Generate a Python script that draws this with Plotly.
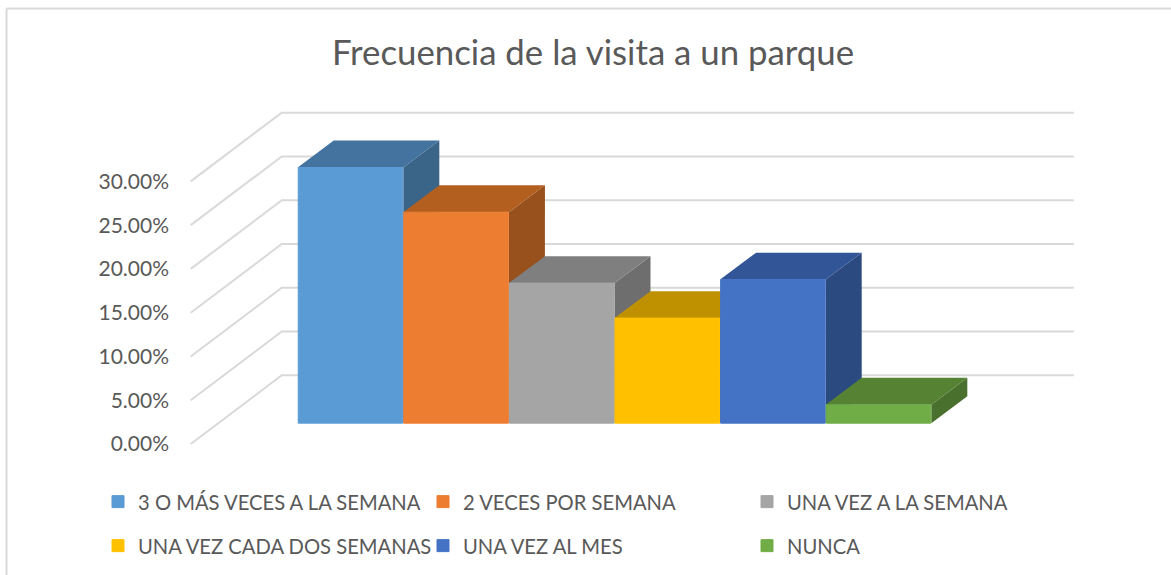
import plotly.graph_objects as go

# ---- data ----
categories = ["3 O MÁS VECES A LA SEMANA", "2 VECES POR SEMANA", "UNA VEZ A LA SEMANA",
              "UNA VEZ CADA DOS SEMANAS", "UNA VEZ AL MES", "NUNCA"]
values = [0.292, 0.241, 0.160, 0.120, 0.164, 0.021]
tick_values = [0, 0.05, 0.10, 0.15, 0.20, 0.25, 0.30]

front_colors = ["#5B9BD5", "#ED7D31", "#A5A5A5", "#FFC000", "#4472C4", "#70AD47"]
top_colors = ["#44739F", "#B25F20", "#7F7F7F", "#BF9000", "#325597", "#568234"]
side_colors = ["#3A6488", "#98501C", "#6E6E6E", "#A67C00", "#2A4A80", "#4A702D"]

# ---- layout ----
W, H = 1171, 575
L, R, T, B = 172, 91, 100, 115
PW, PH = W - L - R, H - T - B
X_RANGE = [-1.6903, 6.9081]
Y_RANGE = [-0.01828, 0.39296]
FONT = "Lato"
GREY = "#595959"

# oblique projection, in axis units
WALL_DX, WALL_DY = 0.862, 0.0785     # front edge of the floor to the back wall
WALL_LEFT, WALL_RIGHT = -1.513, 6.85
BAR_BASE = 0.0238                    # the bars stand this far into the floor
BAR_DX, BAR_DY = 0.341, 0.0308       # depth of a bar


def px(x):
    return (x - L) / PW


def py(y):
    return 1 - (y - T) / PH


fig = go.Figure()

# gridlines: side wall and back wall
gx, gy = [], []
for t in tick_values:
    gx += [WALL_LEFT, WALL_LEFT + WALL_DX, WALL_RIGHT, None]
    gy += [t, t + WALL_DY, t + WALL_DY, None]
fig.add_trace(go.Scatter(x=gx, y=gy, mode="lines", line=dict(color="#D9D9D9", width=2),
                         showlegend=False, hoverinfo="skip"))

# tops and sides, left to right, under the front faces
for i, v in enumerate(values):
    left, right = i - 0.5, i + 0.5
    low, high = BAR_BASE, BAR_BASE + v
    fig.add_trace(go.Scatter(
        x=[right, right + BAR_DX, right + BAR_DX, right, right],
        y=[low, low + BAR_DY, high + BAR_DY, high, low],
        mode="lines", fill="toself", fillcolor=side_colors[i], line=dict(width=0),
        showlegend=False, hoverinfo="skip"))
    fig.add_trace(go.Scatter(
        x=[left, left + BAR_DX, right + BAR_DX, right, left],
        y=[high, high + BAR_DY, high + BAR_DY, high, high],
        mode="lines", fill="toself", fillcolor=top_colors[i], line=dict(width=0),
        showlegend=False, hoverinfo="skip"))

# front faces, on an overlaid pair of axes so they cover everything before them
legend_pos = [(112, 502), (437, 502), (761, 502), (112, 546), (437, 546), (761, 546)]
for i, v in enumerate(values):
    key = "legend" if i == 0 else f"legend{i + 1}"
    fig.add_trace(go.Bar(x=[i], y=[v], base=[BAR_BASE], width=0.99, name=categories[i],
                         marker=dict(color=front_colors[i],
                                     line=dict(color=front_colors[i], width=1)),
                         xaxis="x2", yaxis="y2", legend=key))
    fig.update_layout({key: dict(
        x=px(legend_pos[i][0] - 14), y=py(legend_pos[i][1]),
        xref="paper", yref="paper", xanchor="left", yanchor="middle",
        bgcolor="rgba(0,0,0,0)", font=dict(family=FONT, size=20.2, color=GREY))})

fig.update_layout(
    width=W, height=H, autosize=False,
    margin=dict(l=L, r=R, t=T, b=B, pad=0, autoexpand=False),
    paper_bgcolor="white", plot_bgcolor="rgba(0,0,0,0)",
    title=dict(text="Frecuencia de la visita a un parque", x=593 / W, xanchor="center",
               y=1 - 53 / H, yanchor="middle",
               font=dict(family=FONT, size=34.8, color=GREY)),
    xaxis=dict(range=X_RANGE, visible=False, fixedrange=True),
    yaxis=dict(range=Y_RANGE, tickvals=tick_values, tickformat=".2%", showgrid=False,
               zeroline=False, showline=False, ticks="", ticklabelstandoff=2,
               tickfont=dict(family=FONT, size=21, color=GREY), fixedrange=True),
    xaxis2=dict(range=X_RANGE, visible=False, overlaying="x", fixedrange=True),
    yaxis2=dict(range=Y_RANGE, visible=False, overlaying="y", fixedrange=True),
    shapes=[
        dict(type="line", xref="paper", yref="paper", line=dict(color="#D9D9D9", width=2),
             x0=px(6.5), x1=px(W), y0=py(8.5), y1=py(8.5)),
        dict(type="line", xref="paper", yref="paper", line=dict(color="#D9D9D9", width=2),
             x0=px(6.5), x1=px(6.5), y0=py(8.5), y1=py(H)),
    ],
)

fig.write_html("out.html", config=dict(displayModeBar=False),
               post_script="document.body.style.margin='0';document.body.style.overflow='hidden';")
